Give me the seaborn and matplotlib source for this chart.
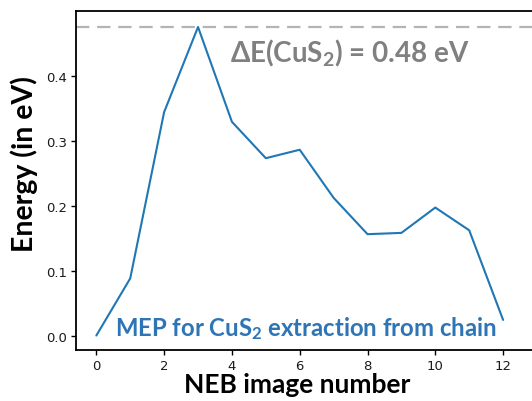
import matplotlib
matplotlib.use("Agg")
import matplotlib.pyplot as plt
import seaborn as sns
import pandas as pd

# Data
images = [0, 1, 2, 3, 4, 5, 6, 7, 8, 9, 10, 11, 12]
energy = [0.0, 0.088, 0.344, 0.475, 0.329, 0.273, 0.286, 0.212, 0.156, 0.158, 0.197, 0.162, 0.024]
barrier = 0.475
xticks = [0, 2, 4, 6, 8, 10, 12]
yticks = [0.0, 0.1, 0.2, 0.3, 0.4]

sns.set_style("ticks")
plt.rcParams['mathtext.default'] = 'regular'

df = pd.DataFrame({"image": images, "energy": energy})

fig = plt.figure(figsize=(5.32, 4.02), dpi=100)
ax = fig.add_axes([76/532, 51/402, (534-76)/532, (351-12)/402])

sns.lineplot(data=df, x="image", y="energy", ax=ax, color="#1f77b4", linewidth=1.5)
ax.axhline(barrier, color="#b4b4b4", linestyle=(0, (6, 3.5)), linewidth=1.6)

ax.set_xlim(-0.6, (534-96.3)/33.9)
ax.set_ylim(-0.0223, 0.4996)
ax.set_xticks(xticks)
ax.set_yticks(yticks)
ax.set_xticklabels([str(t) for t in xticks])
ax.set_yticklabels([f"{t:.1f}" for t in yticks])
ax.tick_params(axis="both", labelsize=9.5, length=3.5, width=1.0, color="black", labelcolor="#1a1a1a", pad=3)
for s in ax.spines.values():
    s.set_linewidth(1.3)
    s.set_color("black")
ax.spines["right"].set_visible(False)

font = ["Lato", "DejaVu Sans"]
ax.set_xlabel("NEB image number", fontsize=19, fontweight="bold", family=font, color="black")
ax.xaxis.set_label_coords((297.5-76)/(534-76), -0.066)
ax.set_ylabel("Energy (in eV)", fontsize=20.5, fontweight="bold", family=font, color="black")
ax.yaxis.set_label_coords(-0.083, (351-164.5)/(351-12))

ax.text(3.94, 0.4226, "ΔE(CuS$_2$) = 0.48 eV", fontsize=20, fontweight="bold", family=font,
        color="#808080", ha="left", va="baseline")
ax.text(0.55, 0.0012, "MEP for CuS$_2$ extraction from chain", fontsize=17.2, fontweight="bold", family=font,
        color="#2e75b6", ha="left", va="baseline")

fig.savefig("out.png", dpi=100)
